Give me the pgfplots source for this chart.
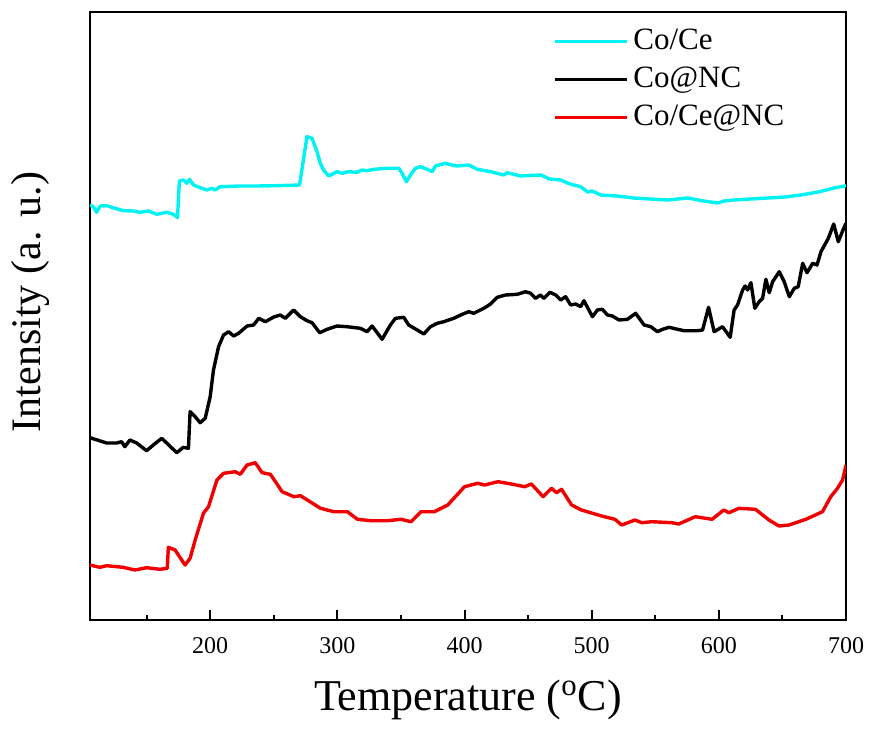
\documentclass[border=0pt]{standalone}
\usepackage{fontspec}
\setmainfont{Liberation Serif}
\usepackage{pgfplots}
\pgfplotsset{compat=1.18}
\definecolor{lineCyan}{RGB}{0,242,242}
\definecolor{lineRed}{RGB}{240,0,0}

\begin{document}
\begin{tikzpicture}
\begin{axis}[
  at={(0,0)}, anchor=south west,
  scale only axis, width=378pt, height=304pt,
  xmin=105.5, xmax=700, ymin=0, ymax=608,
  xtick={200,300,...,700}, minor xtick={150,250,...,650},
  ytick=\empty,
  xtick pos=bottom, tick align=inside,
  major tick length=5pt, minor tick length=2.6pt,
  tick style={line width=1pt, black},
  axis line style={line width=1.2pt},
  /pgf/number format/assume math mode=true,
  xticklabel style={font=\fontsize{12}{14}\selectfont, yshift=-5pt},
  xlabel={Temperature (\textsuperscript{o}C)},
  xlabel style={font=\fontsize{22}{26}\selectfont, at={(rel axis cs:0.5,0)}, anchor=center, yshift=-40pt},
  ylabel={Intensity (a. u.)},
  ylabel style={font=\fontsize{21}{25}\selectfont, at={(rel axis cs:0,0.523)}, anchor=center, yshift=30pt},
  legend cell align=left,
  legend image code/.code={\draw[#1] (0pt,0pt) -- (36pt,0pt);},
  legend style={at={(rel axis cs:0.604,0.99)}, anchor=north west, draw=none, fill=none,
    font=\fontsize{15.5}{18}\selectfont,
    nodes={text height=11pt, text depth=3pt, inner sep=2.5pt}},
  every axis plot/.append style={line width=1.7pt, line join=round},
]
% Co/Ce
\addplot[lineCyan] coordinates {
(105.5,415) (108.1,413.3) (110.7,407.7) (113.4,414) (118.7,414.3) (125.2,411.7)
(131.7,409.3) (139.6,409) (144.9,407.7) (151.4,409) (158.0,405.7) (165.9,407.7)
(171.1,405.7) (174.3,402.3) (175.8,439) (179.0,440) (181.6,436.7) (183.7,440.7)
(186.9,435) (192.1,432.3) (197.4,430) (201.3,431.7) (203.9,430) (207.9,433.3)
(223.6,434) (236.8,434) (252.5,434.3) (270.3,435) (273.5,461.7) (276.1,483.3)
(280.1,481.7) (284.0,468.3) (286.6,456.7) (289.2,450) (293.1,444) (299.8,448.3)
(303.7,446.7) (308.9,448.3) (315.5,447.7) (319.4,450) (323.4,449.3) (328.6,450.7)
(339.1,451.7) (348.3,451.7) (350.9,446.7) (354.3,438.3) (357.5,445) (361.4,451.7)
(365.4,453.3) (370.6,450.7) (374.6,448.3) (377.2,454) (385.0,456.7) (390.3,455)
(394.3,454) (403.4,455) (410.0,450.7) (420.5,448.3) (430.9,445) (433.6,447.3)
(444.1,444) (459.8,445) (467.0,441) (475.6,440) (483.0,436) (491.3,433.3)
(497.0,428) (500.5,429) (507.1,425) (520.0,424) (533.1,422) (546.0,421)
(559.8,420) (575.6,422) (588.0,419) (599.2,417) (604.0,419) (611.8,420)
(625.0,421) (638.6,422) (652.0,423) (664.6,425) (678.0,428) (690.6,432) (700,434.3)
};
% Co@NC
\addplot[black] coordinates {
(105.5,182.3) (118.5,177) (126.4,177) (130.3,178.3) (132.9,173.3) (136.9,180)
(142.2,177) (150.0,169.3) (155.3,175) (161.9,181.7) (165.8,177) (173.7,167.3)
(178.9,172.7) (182.9,171.7) (184.2,208.3) (188.2,203.3) (192.1,197.3) (196.1,201.7)
(200.0,223.3) (202.6,250) (206.6,273.3) (210.5,285) (214.5,288.3) (218.4,284)
(222.4,286.7) (229.0,294) (234.2,295) (238.2,301.7) (243.4,298.3) (250.0,303)
(255.1,305) (259.1,301.7) (265.6,310) (270.9,303.3) (276.1,299.3) (280.1,297.3)
(286.1,287.3) (291.9,290.7) (299.8,294) (307.6,293.3) (318.1,291.7) (323.4,288.3)
(327.3,294) (335.2,280.7) (341.7,295) (345.7,301.7) (352.2,302.7) (356.1,295)
(362.8,290) (368.0,286) (373.2,293.3) (378.5,296.7) (383.7,298.3) (391.6,301.7)
(398.2,305.7) (403.4,308.3) (407.3,306.7) (415.2,311.7) (420.5,316) (425.7,322.7)
(432.3,325) (441.5,325.7) (448.0,328.3) (452.0,326.7) (455.9,321.7) (459.8,325)
(462.4,321.7) (467.2,327.7) (471.7,325) (475.6,320) (479.5,323.3) (483.5,315)
(487.4,316) (491.3,313.3) (493.9,319.3) (500.6,303.3) (504.5,310) (508.4,310.7)
(512.4,305) (516.3,304) (521.5,300) (528.1,300.7) (534.6,306.7) (541.2,295)
(546.5,293.3) (551.7,288.3) (555.7,290.7) (560.9,292.7) (567.5,290.7) (572.7,289.3)
(583.2,289.3) (587.2,290) (591.9,312.7) (596.3,288.3) (602.9,293.3) (608.9,282.7)
(612.0,310) (614.7,315) (618.7,330) (620.7,334) (622.6,330) (625.2,337.3)
(628.3,311.7) (631.7,318.3) (634.4,321.7) (637.0,340.7) (639.6,327.3) (642.3,338.3)
(647.5,348.3) (651.4,338.3) (655.4,323.3) (659.3,331.7) (662.4,333.3) (665.9,356.7)
(669.3,347.3) (673.8,356.7) (677.2,355) (680.3,368.3) (686.1,381.7) (690.3,396)
(693.9,378.3) (698.7,393.3) (700,396.7)
};
% Co/Ce@NC
\addplot[lineRed] coordinates {
(105.5,55) (113.2,52.7) (118.5,54.3) (131.6,52.7) (140.8,50) (150.0,52.3)
(160.5,50.7) (166.3,51.7) (167.1,72.7) (172.4,70) (180.3,55) (184.2,61.7)
(188.2,80) (194.7,106.7) (198.7,113.3) (205.3,140) (210.5,146.7) (219.7,148.3)
(223.7,145.7) (229.0,155) (235.5,157.3) (240.8,147.3) (247.4,145.7) (256.6,128.3)
(265.8,123.3) (271.0,124.3) (286.8,111.7) (297.3,108.3) (307.9,108.3) (315.8,100.7)
(326.3,99.3) (339.4,99.3) (350.0,100.7) (357.9,98.3) (365.8,108.3) (376.3,108.3)
(386.8,115) (400.0,133.3) (410.5,136.7) (415.7,135) (426.3,138.3) (436.8,136)
(447.3,133.3) (452.6,136) (461.8,123.3) (468.4,131.7) (472.3,127.3) (476.3,130.7)
(484.2,115) (492.0,110) (507.8,104) (518.3,100.7) (523.6,95) (534.1,100)
(539.4,97.3) (547.3,98.3) (563.1,97.3) (568.4,96) (581.5,103.3) (594.7,100.7)
(603.9,110) (607.9,107.3) (615.8,111.7) (628.8,110.7) (639.4,100) (647.3,94)
(655.2,95) (668.4,100.7) (681.5,108.3) (688.0,123.3) (693.3,131.7) (697.3,140)
(700,155)
};
\legend{Co/Ce, Co@NC, Co/Ce@NC}
\end{axis}
\pgfresetboundingbox
\path[use as bounding box] (-45pt,-54pt) rectangle (390pt,310pt);
\end{tikzpicture}
\end{document}
